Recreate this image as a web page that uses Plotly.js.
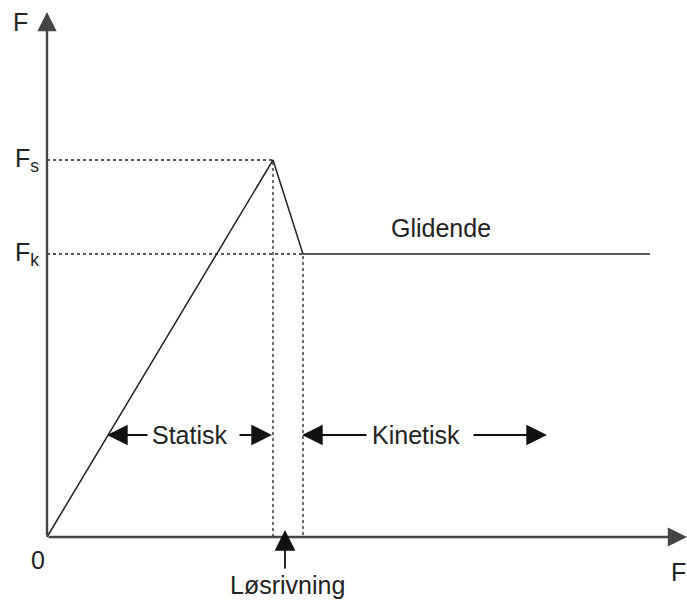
<!DOCTYPE html>
<html><head><meta charset="utf-8">
<script src="https://cdn.plot.ly/plotly-3.0.1.min.js"></script>
<style>body{margin:0;background:#fff}#c{width:687px;height:605px}</style>
</head><body><div id="c"></div>
<script>
// Friction force curve (arbitrary units)
const curveX = [0, 226, 256, 603];
const curveF = [0, 377, 283, 283];
const Fs = 377, Fk = 283;
const xPeak = 226, xSlip = 256;
const axisTipX = 640, axisTipY = 525;

const dot = {color:'#222', width:1.3, dash:'dot'};
const traces = [
  {x:curveX, y:curveF, mode:'lines', line:{color:'#222', width:1.5}, hoverinfo:'skip'},
  {x:[0, xPeak, xPeak], y:[Fs, Fs, 0], mode:'lines', line:dot, hoverinfo:'skip'},
  {x:[0, xSlip, xSlip], y:[Fk, Fk, 0], mode:'lines', line:dot, hoverinfo:'skip'}
];

const font = {family:'Liberation Sans, Arial, sans-serif', size:25, color:'#222'};
function arrow(x, y, ax, ay, w, col, s){
  return {x:x, y:y, ax:ax, ay:ay, xref:'x', yref:'y', axref:'x', ayref:'y', text:'',
    showarrow:true, arrowhead:2, arrowsize:s, arrowwidth:w, arrowcolor:col};
}
function label(text, x, y, anchor){
  return {x:x, y:y, xref:'x', yref:'y', text:text, showarrow:false,
    font:font, xanchor:anchor || 'center', yanchor:'middle'};
}
const ann = [
  arrow(0, axisTipY, 0, 0, 2.4, '#444', 1.6),
  arrow(axisTipX, 0, 0, 0, 2.4, '#444', 1.6),
  arrow(60, 102, 102, 102, 1.8, '#111', 2.3),
  arrow(225, 102, 191, 102, 1.8, '#111', 2.3),
  arrow(255, 102, 321, 102, 1.8, '#111', 2.3),
  arrow(500, 102, 425, 102, 1.8, '#111', 2.3),
  arrow(238, 7, 238, -33, 1.8, '#111', 2.3),
  label('F', -27, 515),
  label('F<sub>s</sub>', -20, 377),
  label('F<sub>k</sub>', -20, 283),
  label('0', -9, -23),
  label('F', 622, -35, 'left'),
  label('Glidende', 394, 309),
  label('Statisk', 143, 102),
  label('Kinetisk', 369, 102),
  label('Løsrivning', 240, -48)
];

const layout = {
  width:687, height:605,
  margin:{l:0, r:0, t:0, b:0},
  paper_bgcolor:'#fff', plot_bgcolor:'#fff',
  showlegend:false,
  xaxis:{range:[-47,640], visible:false, fixedrange:true},
  yaxis:{range:[-68,537], visible:false, fixedrange:true},
  annotations:ann
};
Plotly.newPlot('c', traces, layout, {displayModeBar:false, staticPlot:true});
</script></body></html>
